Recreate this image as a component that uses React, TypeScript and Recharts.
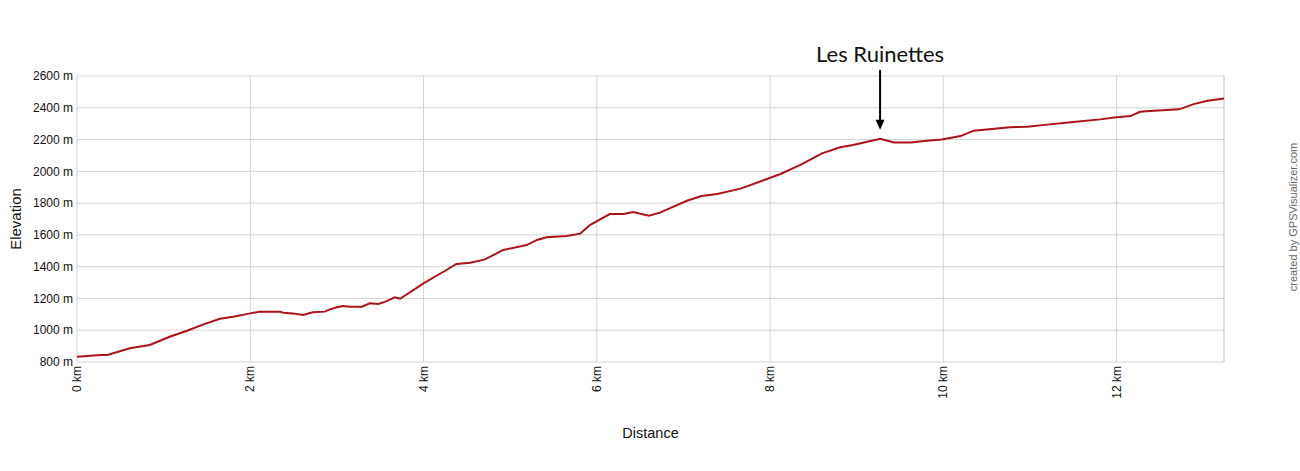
import { LineChart, Line, XAxis, YAxis, CartesianGrid, ReferenceLine } from 'recharts';

const distanceKm = [
  0, 0.27, 0.35, 0.61, 0.84, 1.07, 1.27, 1.46, 1.65, 1.8, 2.0, 2.11, 2.34, 2.38, 2.49, 2.61, 2.72, 2.86, 2.92,
  3.0, 3.07, 3.15, 3.29, 3.38, 3.48, 3.56, 3.67, 3.73, 4.0, 4.23, 4.38, 4.54, 4.71, 4.92, 5.19, 5.31, 5.42,
  5.65, 5.81, 5.92, 6.15, 6.31, 6.42, 6.6, 6.73, 7.04, 7.21, 7.39, 7.66, 7.91, 8.12, 8.35, 8.6, 8.81, 8.96,
  9.27, 9.43, 9.62, 9.81, 9.98, 10.2, 10.35, 10.5, 10.77, 10.97, 11.2, 11.5, 11.81, 12.0, 12.16, 12.27,
  12.43, 12.72, 12.89, 13.05, 13.24,
];
const elevationM = [
  833, 844, 844, 886, 907, 959, 997, 1037, 1072, 1085, 1106, 1117, 1117, 1110, 1106, 1096, 1113, 1117, 1131,
  1144, 1152, 1148, 1148, 1169, 1165, 1180, 1207, 1198, 1295, 1368, 1417, 1425, 1446, 1505, 1536, 1568, 1585,
  1593, 1608, 1662, 1731, 1731, 1744, 1721, 1740, 1815, 1845, 1857, 1891, 1941, 1983, 2040, 2113, 2151, 2166,
  2205, 2182, 2182, 2193, 2201, 2222, 2256, 2264, 2277, 2281, 2294, 2310, 2327, 2340, 2348, 2375,
  2382, 2390, 2423, 2444, 2459,
];
const xTicks = [0, 2, 4, 6, 8, 10, 12];
const yTicks = [800, 1000, 1200, 1400, 1600, 1800, 2000, 2200, 2400, 2600];
const marker = { name: 'Les Ruinettes', km: 9.27, from: 2638, to: 2262 };

const data = distanceKm.map((km, i) => ({ km, elev: elevationM[i] }));
const font = '"Liberation Sans", Arial, sans-serif';

function XTick(props: any) {
  const { x, y, payload } = props;
  return (
    <text x={x} y={y} transform={`rotate(-90 ${x} ${y})`} textAnchor="end" dominantBaseline="central"
      fontSize={12} fontFamily={font} fill="#111">
      {`${payload.value} km`}
    </text>
  );
}

function Arrow(props: any) {
  const { x1, y1, x2, y2 } = props;
  return (
    <g>
      <text x={x1} y={y1 - 8} textAnchor="middle" fontSize={22} fontFamily="Lato, sans-serif" fill="#111">
        {marker.name}
      </text>
      <line x1={x1} y1={y1} x2={x2} y2={y2 - 9} stroke="#000" strokeWidth={2} />
      <polygon points={`${x2 - 4.5},${y2 - 10} ${x2 + 4.5},${y2 - 10} ${x2},${y2}`} fill="#000" />
    </g>
  );
}

export default function App() {
  return (
    <div style={{ position: 'absolute', left: 0, top: 0, width: 1300, height: 471, background: '#fff' }}>
      <LineChart width={1300} height={471} data={data} margin={{ top: 76, right: 76, bottom: 29, left: 0 }}>
        <CartesianGrid stroke="#d4d4d4" />
        <XAxis dataKey="km" type="number" domain={[0, 13.24]} ticks={xTicks} tick={<XTick />} tickLine={false}
          axisLine={false} tickSize={0} tickMargin={4} height={80} interval={0}
          label={{ value: 'Distance', position: 'insideBottom', offset: 4, fontSize: 14.5, fontFamily: font, fill: '#111' }} />
        <YAxis type="number" domain={[800, 2600]} ticks={yTicks} width={77} tickLine={false} axisLine={false}
          tickSize={0} tickMargin={4} interval={0} tickFormatter={(v: number) => `${v} m`}
          tick={{ fontSize: 12, fontFamily: font, fill: '#111' }}
          label={({ viewBox }: any) => {
            const cx = viewBox.x + 15;
            const cy = viewBox.y + viewBox.height / 2;
            return (
              <text x={cx} y={cy} transform={`rotate(-90 ${cx} ${cy})`} textAnchor="middle" dominantBaseline="central"
                fontSize={15} fontFamily={font} fill="#111">Elevation</text>
            );
          }} />
        <ReferenceLine x={13.24} stroke="#d4d4d4" />
        <Line type="linear" dataKey="elev" stroke="#ad1218" strokeWidth={2} dot={false} isAnimationActive={false} />
        <ReferenceLine segment={[{ x: marker.km, y: marker.from }, { x: marker.km, y: marker.to }]}
          ifOverflow="visible" shape={<Arrow />} />
      </LineChart>
      <svg width={1300} height={471} style={{ position: 'absolute', left: 0, top: 0, pointerEvents: 'none' }}>
        <text x={1293} y={217} transform="rotate(-90 1293 217)" textAnchor="middle" dominantBaseline="central"
          fontSize={11} fontFamily={font} fill="#666">created by GPSVisualizer.com</text>
      </svg>
    </div>
  );
}
